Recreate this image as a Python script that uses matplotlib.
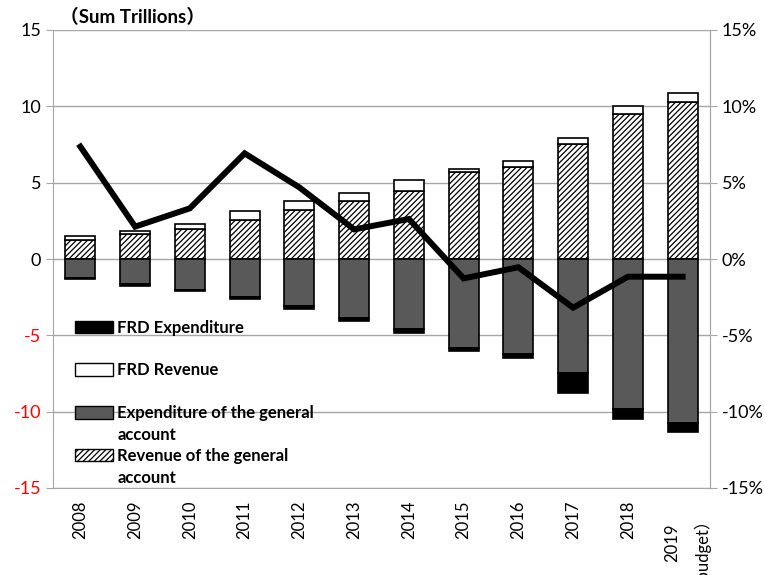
import numpy as np
import matplotlib.pyplot as plt
from matplotlib.patches import Patch

years = ["2008", "2009", "2010", "2011", "2012", "2013", "2014", "2015",
         "2016", "2017", "2018", "2019\n（budget）"]
# trillions
gen_revenue = [1.23, 1.64, 1.96, 2.55, 3.20, 3.82, 4.47, 5.70, 6.04, 7.52, 9.47, 10.26]
frd_revenue = [0.30, 0.22, 0.33, 0.59, 0.57, 0.48, 0.70, 0.20, 0.35, 0.39, 0.57, 0.59]
gen_expend = [-1.26, -1.66, -2.00, -2.50, -3.11, -3.89, -4.60, -5.85, -6.25, -7.49, -9.82, -10.72]
frd_expend = [-0.07, -0.08, -0.10, -0.10, -0.17, -0.20, -0.22, -0.20, -0.25, -1.27, -0.63, -0.63]
# right axis, percent
ratio = [7.36, 2.12, 3.32, 6.92, 4.69, 1.94, 2.62, -1.27, -0.54, -3.19, -1.16, -1.16]

plt.rcParams['font.family'] = ['Lato', 'Noto Sans CJK JP', 'DejaVu Sans']
plt.rcParams['axes.unicode_minus'] = False
plt.rcParams['hatch.linewidth'] = 0.9

fig = plt.figure(figsize=(7.64, 5.75), dpi=100)
ax = fig.add_axes([53 / 764, 87 / 575, 657 / 764, 458 / 575])

x = np.arange(len(years))
w = 0.55
gray = "#595959"

ax.bar(x, gen_revenue, w, color="white", edgecolor="black", hatch="//////", linewidth=1.2, zorder=3)
ax.bar(x, frd_revenue, w, bottom=gen_revenue, color="white", edgecolor="black", linewidth=1.2, zorder=3)
ax.bar(x, gen_expend, w, color=gray, edgecolor="black", linewidth=1.2, zorder=3)
ax.bar(x, frd_expend, w, bottom=gen_expend, color="black", edgecolor="black", linewidth=1.2, zorder=3)

ax.set_ylim(-15, 15)
ax.set_yticks(range(-15, 16, 5))
ax.set_xlim(-0.5, len(years) - 0.5)
ax.set_xticks(x)
ax.set_xticklabels(years, rotation=90, fontsize=12, va="top", multialignment="center")
ax.tick_params(axis="x", length=0, pad=9)
ax.tick_params(axis="y", labelsize=13, color="#a6a6a6", length=5)
for lbl, v in zip(ax.get_yticklabels(), range(-15, 16, 5)):
    lbl.set_color("#ff0000" if v < 0 else "black")
ax.grid(axis="y", color="#a6a6a6", linewidth=1, zorder=0)
ax.spines["top"].set_visible(False)
for s in ["left", "right", "bottom"]:
    ax.spines[s].set_color("#a6a6a6")

ax2 = ax.twinx()
ax2.plot(x, ratio, color="black", linewidth=4.3, solid_joinstyle="miter", zorder=5)
ax2.set_ylim(-15, 15)
ax2.set_yticks(range(-15, 16, 5))
ax2.set_yticklabels([f"{v}%" for v in range(-15, 16, 5)])
ax2.tick_params(axis="y", labelsize=13, color="#a6a6a6", length=5)
for s in ["top", "left", "bottom"]:
    ax2.spines[s].set_visible(False)
ax2.spines["right"].set_color("#a6a6a6")

handles = [
    Patch(facecolor="black", edgecolor="black"),
    Patch(facecolor="white", edgecolor="black"),
    Patch(facecolor=gray, edgecolor="black"),
    Patch(facecolor="white", edgecolor="black", hatch="//////"),
]
labels = ["FRD Expenditure", "FRD Revenue", "Expenditure of the general", "Revenue of the general"]
leg = ax2.legend(handles, labels, loc="upper left", bbox_to_anchor=(0.023, 0.382),
                 frameon=False, handlelength=2.3, handleheight=0.8,
                 handletextpad=0.25, labelspacing=1.6, borderaxespad=0,
                 prop={"weight": "bold", "size": 12})
leg.set_zorder(10)

# second line of the wrapped legend labels
fig.canvas.draw()
inv = fig.transFigure.inverted()
for t in leg.get_texts()[2:]:
    bb = t.get_window_extent()
    x0, y0 = inv.transform((bb.x0, bb.y0 - 22))
    fig.text(x0, y0, "account", fontsize=12, fontweight="bold", va="bottom", ha="left", zorder=11)

fig.text(60 / 764, 1 - 17 / 575, "（Sum Trillions）", fontsize=13.5, fontweight="bold",
         va="center", ha="left")

fig.savefig("out.png", dpi=100)
